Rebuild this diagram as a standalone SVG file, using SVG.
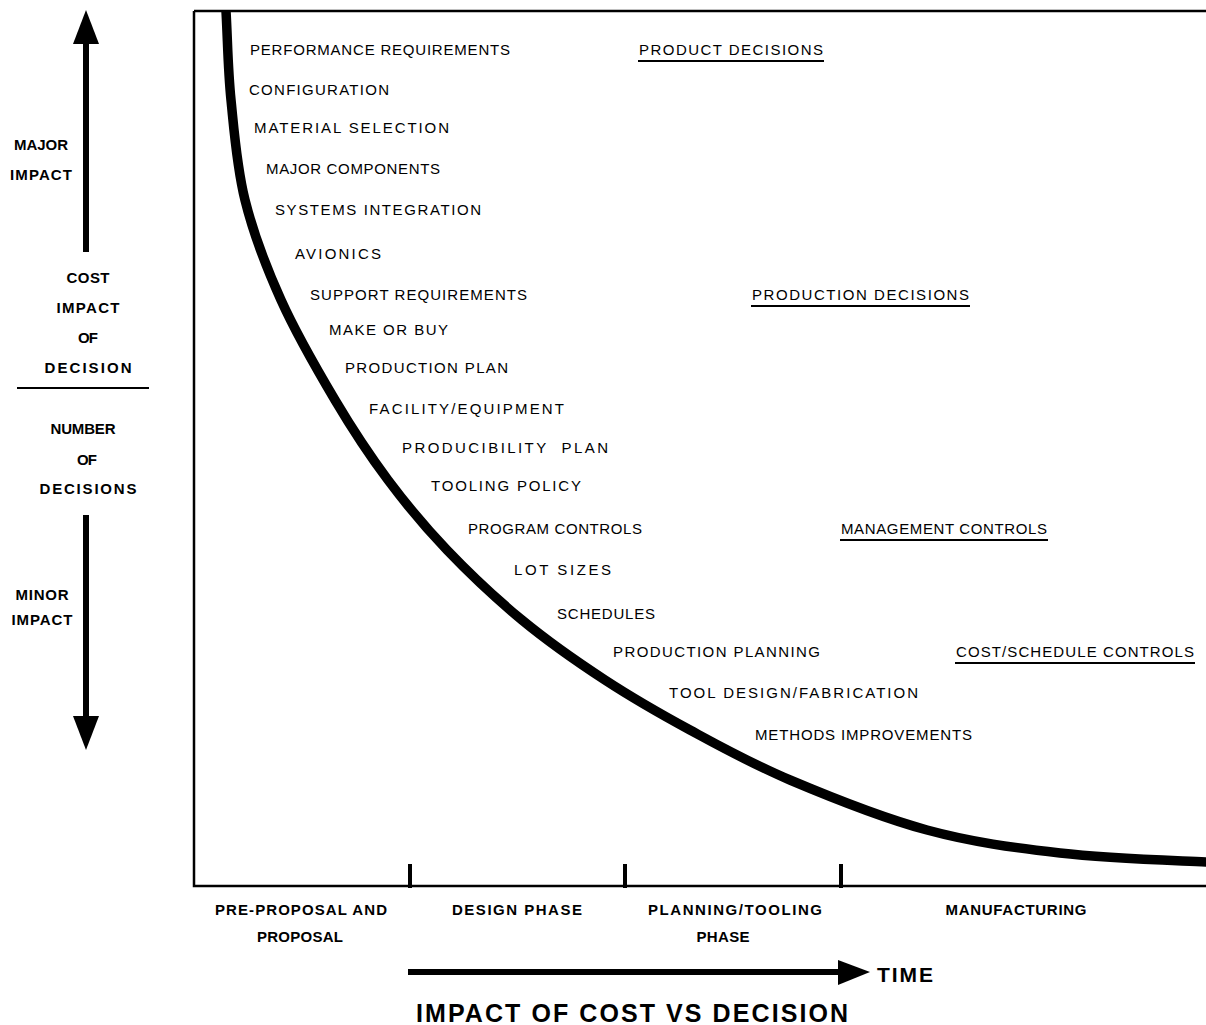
<svg xmlns="http://www.w3.org/2000/svg" width="1206" height="1025" viewBox="0 0 1206 1025">
<defs>
<style>
.lbl{font-family:"Liberation Sans",Arial,sans-serif;font-size:15px;fill:#000}
.bl{font-family:"Liberation Sans",Arial,sans-serif;font-size:15px;font-weight:bold;fill:#000;text-anchor:middle}
.ax{stroke:#000;stroke-width:2.5;fill:none}
.tick{stroke:#000;stroke-width:4;fill:none}
.ul{stroke:#000;stroke-width:2;fill:none}
.arr{stroke:#000;stroke-width:6;fill:none}
</style>
</defs>
<rect width="1206" height="1025" fill="#fff"/>

<g id="axes">
<path class="ax" d="M194,11 L1206,11 M194,11 L194,886 L1206,886"/>
<path class="tick" d="M410,864 L410,888 M625,864 L625,888 M841,864 L841,888"/>
</g>

<g id="curve">
<path d="M226,11 C227.7,40.7 227.8,68.5 231,100 C234.2,131.5 236.7,166.7 245,200 C253.3,233.3 266,266.7 281,300 C296,333.3 317.2,370 335,400 C352.8,430 369.3,455 388,480 C406.7,505 424.7,526.7 447,550 C469.3,573.3 495.7,598.3 522,620 C548.3,641.7 577,661.7 605,680 C633,698.3 659.2,713.3 690,730 C720.8,746.7 750.5,763.3 790,780 C829.5,796.7 882,817.8 927,830 C972,842.2 1013.5,847.7 1060,853 C1106.5,858.3 1154,859.7 1206,862 L1212,862.2" stroke="#000" stroke-width="9.5" fill="none"/>
</g>

<g id="left-axis">
<path class="arr" d="M86,252 L86,40"/>
<polygon points="86,10 73,44 99,44" fill="#000"/>
<path class="arr" d="M86,515 L86,720"/>
<polygon points="86,750 73,716 99,716" fill="#000"/>
<text class="bl" x="41" y="150" textLength="54">MAJOR</text>
<text class="bl" x="41" y="180" textLength="62">IMPACT</text>
<text class="bl" x="88" y="283" textLength="43">COST</text>
<text class="bl" x="88" y="313" textLength="63">IMPACT</text>
<text class="bl" x="88" y="343" textLength="20">OF</text>
<text class="bl" x="88" y="373" textLength="87">DECISION</text>
<line x1="17" y1="388" x2="149" y2="388" stroke="#000" stroke-width="2"/>
<text class="bl" x="83" y="434" textLength="65">NUMBER</text>
<text class="bl" x="87" y="465" textLength="20">OF</text>
<text class="bl" x="88" y="494" textLength="97">DECISIONS</text>
<text class="bl" x="42" y="600" textLength="53">MINOR</text>
<text class="bl" x="42" y="625" textLength="61">IMPACT</text>
</g>

<g id="decisions">
<text class="lbl" x="250" y="55" textLength="260">PERFORMANCE REQUIREMENTS</text>
<text class="lbl" x="249" y="95" textLength="140">CONFIGURATION</text>
<text class="lbl" x="254" y="133" textLength="195">MATERIAL SELECTION</text>
<text class="lbl" x="266" y="174" textLength="174">MAJOR COMPONENTS</text>
<text class="lbl" x="275" y="215" textLength="206">SYSTEMS INTEGRATION</text>
<text class="lbl" x="295" y="259" textLength="86">AVIONICS</text>
<text class="lbl" x="310" y="300" textLength="217">SUPPORT REQUIREMENTS</text>
<text class="lbl" x="329" y="335" textLength="119">MAKE OR BUY</text>
<text class="lbl" x="345" y="373" textLength="163">PRODUCTION PLAN</text>
<text class="lbl" x="369" y="414" textLength="195">FACILITY/EQUIPMENT</text>
<text class="lbl" x="402" y="453" textLength="206" xml:space="preserve">PRODUCIBILITY  PLAN</text>
<text class="lbl" x="431" y="491" textLength="150">TOOLING POLICY</text>
<text class="lbl" x="468" y="534" textLength="174">PROGRAM CONTROLS</text>
<text class="lbl" x="514" y="575" textLength="97">LOT SIZES</text>
<text class="lbl" x="557" y="619" textLength="98">SCHEDULES</text>
<text class="lbl" x="613" y="657" textLength="207">PRODUCTION PLANNING</text>
<text class="lbl" x="669" y="698" textLength="249">TOOL DESIGN/FABRICATION</text>
<text class="lbl" x="755" y="740" textLength="217">METHODS IMPROVEMENTS</text>
</g>

<g id="categories">
<text class="lbl" x="639" y="55" textLength="184">PRODUCT DECISIONS</text>
<line class="ul" x1="638" y1="61" x2="824" y2="61"/>
<text class="lbl" x="752" y="300" textLength="217">PRODUCTION DECISIONS</text>
<line class="ul" x1="751" y1="306" x2="970" y2="306"/>
<text class="lbl" x="841" y="534" textLength="206">MANAGEMENT CONTROLS</text>
<line class="ul" x1="840" y1="540" x2="1048" y2="540"/>
<text class="lbl" x="956" y="657" textLength="238">COST/SCHEDULE CONTROLS</text>
<line class="ul" x1="955" y1="663" x2="1195" y2="663"/>
</g>

<g id="phases">
<text class="bl" x="301" y="915" textLength="172">PRE-PROPOSAL AND</text>
<text class="bl" x="300" y="942" textLength="86">PROPOSAL</text>
<text class="bl" x="517" y="915" textLength="130">DESIGN PHASE</text>
<text class="bl" x="735" y="915" textLength="174">PLANNING/TOOLING</text>
<text class="bl" x="723" y="942" textLength="53">PHASE</text>
<text class="bl" x="1016" y="915" textLength="141">MANUFACTURING</text>
</g>

<g id="time-axis">
<path class="arr" d="M408,972 L842,972"/>
<polygon points="870,972 838,960 838,985" fill="#000"/>
<text x="877" y="982" font-family="Liberation Sans,Arial,sans-serif" font-size="21" font-weight="bold" textLength="56">TIME</text>
</g>

<text x="632" y="1022" font-family="Liberation Sans,Arial,sans-serif" font-size="25" font-weight="bold" text-anchor="middle" textLength="432">IMPACT OF COST VS DECISION</text>
</svg>
